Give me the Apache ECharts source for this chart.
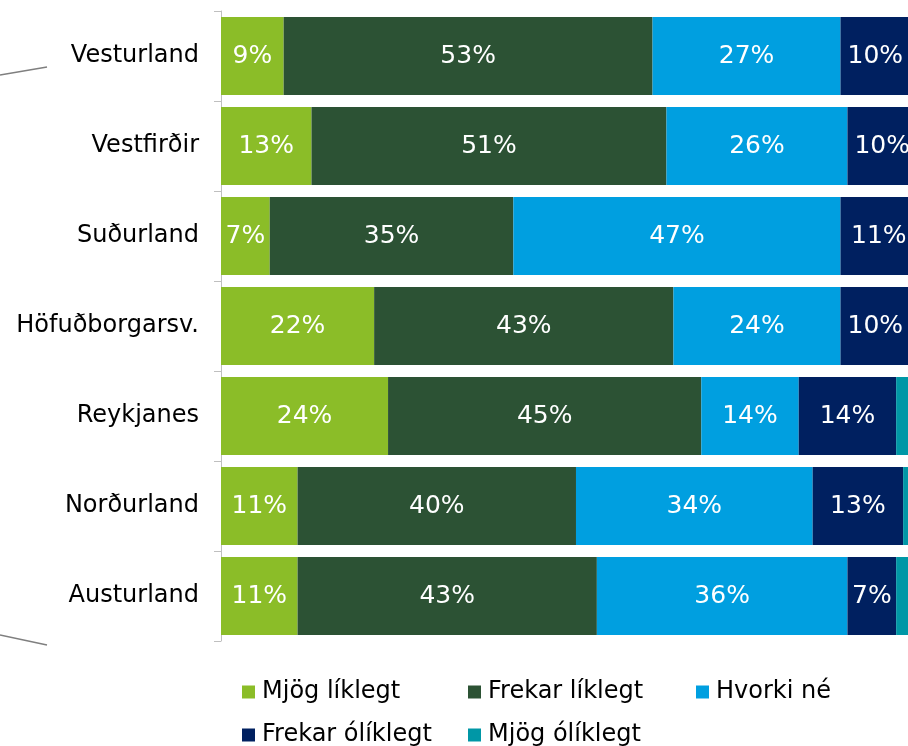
<!DOCTYPE html>
<html>
<head>
<meta charset="utf-8">
<script src="https://cdn.jsdelivr.net/npm/echarts@6/dist/echarts.min.js"></script>
<style>
html,body{margin:0;padding:0;background:#fff;}
#c{width:908px;height:746px;}
</style>
</head>
<body>
<div id="c"></div>
<script>
const categories = ['Vesturland','Vestfirðir','Suðurland','Höfuðborgarsv.','Reykjanes','Norðurland','Austurland'];
const seriesNames = ['Mjög líklegt','Frekar líklegt','Hvorki né','Frekar ólíklegt','Mjög ólíklegt'];
const mjogLiklegt    = [9, 13, 7, 22, 24, 11, 11];
const frekarLiklegt  = [53, 51, 35, 43, 45, 40, 43];
const hvorkiNe       = [27, 26, 47, 24, 14, 34, 36];
const frekarOliklegt = [10, 10, 11, 10, 14, 13, 7];
const mjogOliklegt   = [1, 0, 0, 1, 3, 2, 3];
const colors = ['#8bbd28','#2c5234','#009fe0','#002060','#0097a6'];
const values = [mjogLiklegt, frekarLiklegt, hvorkiNe, frekarOliklegt, mjogOliklegt];
const font = 'DejaVu Sans, Verdana, sans-serif';

const chart = echarts.init(document.getElementById('c'), null, {renderer:'canvas'});

const series = seriesNames.map((n,i)=>({
  name:n, type:'bar', stack:'total', data:values[i], barWidth:78, clip:false,
  itemStyle:{color:colors[i]},
  label:{show:i<4, position:'inside', color:'#fff', fontFamily:font, fontSize:25,
    formatter:p=>Math.round(p.value)+'%'},
  emphasis:{disabled:true}
}));

const legendPos = [[242,680],[468,680],[696,680],[242,723],[468,723]];
const legends = seriesNames.map((n,i)=>({
  data:[n], left:legendPos[i][0], top:legendPos[i][1], itemWidth:13, itemHeight:13,
  icon:'rect', itemGap:0, padding:0,
  textStyle:{fontFamily:font, fontSize:24, lineHeight:13, color:'#000', padding:[0,0,0,2]},
  selectedMode:false
}));

chart.setOption({
  animation:false,
  legend:legends,
  grid:{left:221, right:0, top:11, bottom:105, containLabel:false},
  xAxis:{type:'value', min:0, max:98.7, show:false},
  yAxis:{type:'category', data:categories, inverse:true,
    axisLine:{show:true, lineStyle:{color:'#bfbfbf', width:1}},
    axisTick:{show:true, length:7, lineStyle:{color:'#bfbfbf'}},
    axisLabel:{margin:22, color:'#000', fontFamily:font, fontSize:24}},
  graphic:[
    {type:'line', shape:{x1:0,y1:75,x2:47,y2:67}, style:{stroke:'#7f7f7f', lineWidth:1.5}},
    {type:'line', shape:{x1:0,y1:635,x2:47,y2:645}, style:{stroke:'#7f7f7f', lineWidth:1.5}}
  ],
  series:series
});
</script>
</body>
</html>
